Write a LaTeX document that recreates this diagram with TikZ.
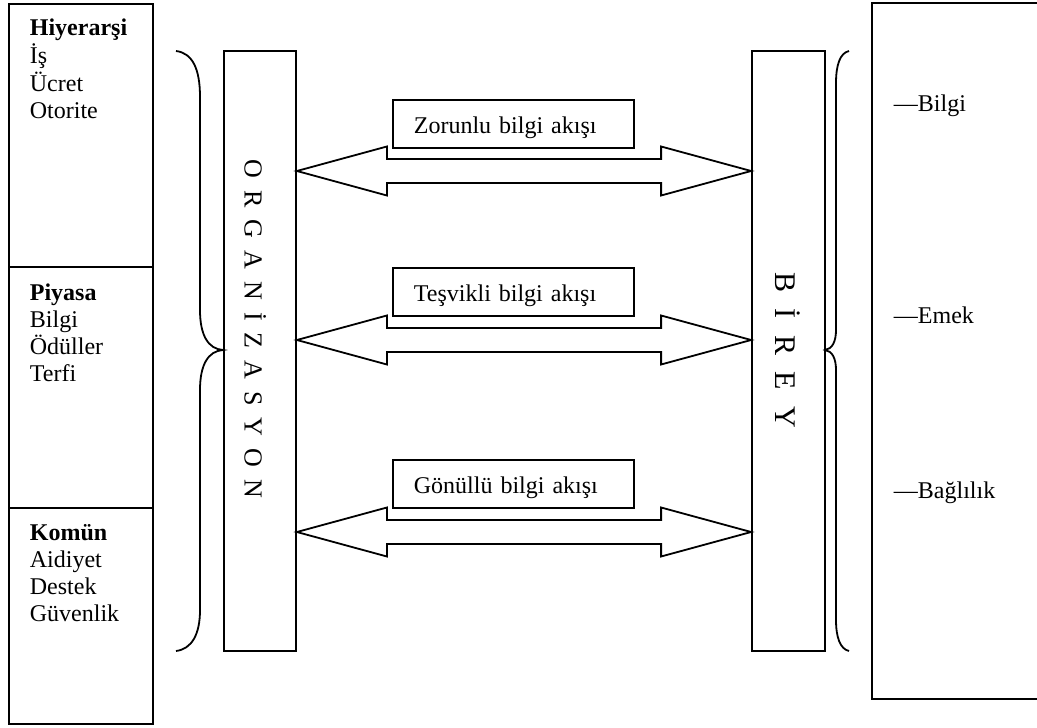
\documentclass[tikz,border=0pt]{standalone}
\usepackage{fontspec}
\setmainfont{Liberation Serif}
\usetikzlibrary{calc}
\newcommand\lspO{\hspace{6pt}}
\newcommand\lspB{\hspace{8.25pt}}
\begin{document}
\begin{tikzpicture}[x=0.5pt,y=-0.5pt,line width=0.9pt,
  every node/.style={inner sep=0pt,font=\fontsize{12}{13.5}\selectfont},
  section/.style={draw,rectangle,anchor=north west,minimum width=72pt},
  column/.style={draw,rectangle,minimum height=300pt},
  coltext/.style={rotate=-90,text height=8.5pt,text depth=0pt},
  flowlabel/.style={draw,rectangle,anchor=north west,align=left,
    text width=99.5pt,inner xsep=10.5pt,inner ysep=3pt,
    text height=14pt,text depth=4pt},
  listtext/.style={anchor=base west},
  arrowbody/.style={line join=miter}]
\useasboundingbox (0,0) rectangle (1037,727);

% left column: three stacked sections
\node[section,minimum height=131.5pt] (hier) at (8,3) {};
\node[section,minimum height=120.5pt] (piy) at (8,266) {};
\node[section,minimum height=108pt] (kom) at (8,507) {};
\node[listtext] (thier) at (29,36) {\begin{tabular}[t]{@{}l@{}}\textbf{Hiyerarşi}\\ İş\\ Ücret\\ Otorite\end{tabular}};
\node[listtext] (tpiy) at (29,300) {\begin{tabular}[t]{@{}l@{}}\textbf{Piyasa}\\ Bilgi\\ Ödüller\\ Terfi\end{tabular}};
\node[listtext] (tkom) at (29,540) {\begin{tabular}[t]{@{}l@{}}\textbf{Komün}\\ Aidiyet\\ Destek\\ Güvenlik\end{tabular}};

% brace grouping the sections
\draw (176,51) .. controls (192,53) and (200,68) .. (200,97) -- (200,310)
  .. controls (200,335) and (208,349) .. (223,350)
  .. controls (208,351) and (200,365) .. (200,390) -- (200,610)
  .. controls (200,634) and (192,649) .. (176,651);

% the two vertical columns
\node[column,minimum width=36pt] (org) at (260,351) {};
\node[coltext,font=\fontsize{13}{15}\selectfont] (orgtxt) at (253,329) {O\lspO R\lspO G\lspO A\lspO N\lspO İ\lspO Z\lspO A\lspO S\lspO Y\lspO O\lspO N};
\node[column,minimum width=36.5pt] (bir) at (788.5,351) {};
\node[coltext,font=\fontsize{15}{17}\selectfont,text height=10pt] (birtxt) at (785,350) {B\lspB İ\lspB R\lspB E\lspB Y};

% brace on the right
\draw (849,51) .. controls (840,53) and (836,65) .. (836,83) -- (836,330)
  .. controls (836,342) and (832,349) .. (825,350)
  .. controls (832,351) and (836,358) .. (836,370) -- (836,620)
  .. controls (836,637) and (840,649) .. (849,651);

% outcome box
\draw (1037,3) -- (872,3) -- (872,699) -- (1037,699);
\node[listtext] (o1) at (893,112) {—Bilgi};
\node[listtext] (o2) at (893,323) {—Emek};
\node[listtext] (o3) at (893,498) {—Bağlılık};

% double block arrows between the columns
\foreach \c in {171,340,532}{
  \coordinate (yc) at (0,\c);
  \draw[arrowbody] (org.east |- yc) -- ++(90,-24.5) -- ++(0,12.5)
    -- ($(bir.west |- yc)+(-90,-12)$) -- ++(0,-12.5) -- (bir.west |- yc)
    -- ++(-90,24.5) -- ++(0,-12.5) -- ($(org.east |- yc)+(90,12)$)
    -- ++(0,12.5) -- cycle;
}

% flow labels
\node[flowlabel] (f1) at (392,99) {Zorunlu bilgi akışı};
\node[flowlabel] (f2) at (392,267) {Teşvikli bilgi akışı};
\node[flowlabel] (f3) at (392,459) {Gönüllü bilgi akışı};
\end{tikzpicture}
\end{document}
